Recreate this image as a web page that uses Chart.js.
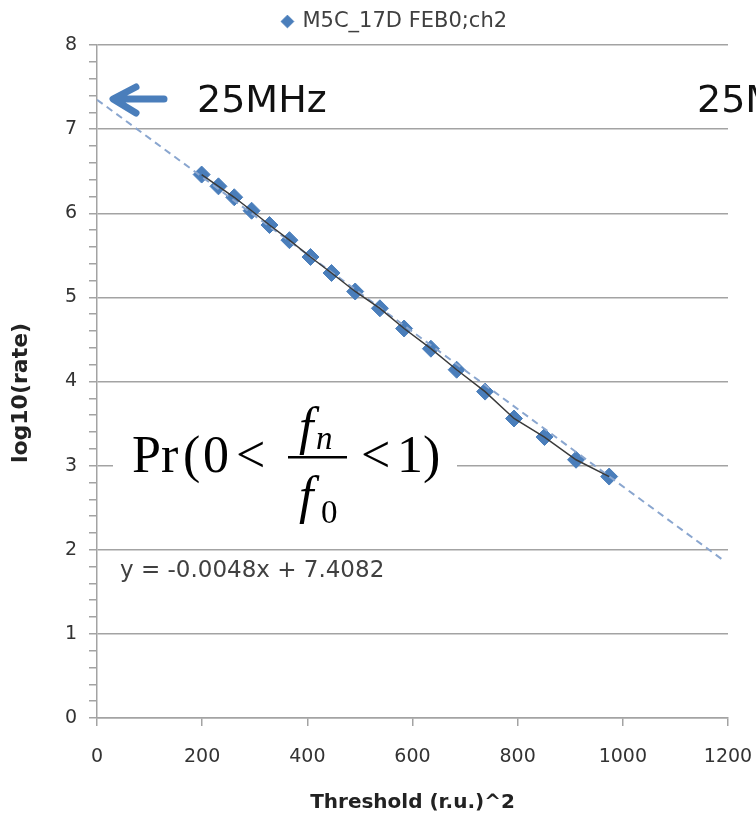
<!DOCTYPE html>
<html><head><meta charset="utf-8">
<script src="https://cdn.jsdelivr.net/npm/chart.js@4"></script>
<style>html,body{margin:0;padding:0;background:#fff;}canvas{display:block;}</style>
</head><body>
<canvas id="c" width="756" height="826"></canvas>
<script>
const seriesName = 'M5C_17D FEB0;ch2';
const thresholdSq = [199,231,261,294,328,366,406,446,491,538,584,635,684,738,793,851,911,974];
const log10Rate = [6.46,6.32,6.19,6.03,5.86,5.68,5.48,5.29,5.07,4.87,4.63,4.39,4.14,3.88,3.56,3.34,3.07,2.87];
const trendX = [0, 1190];
const trendY = [7.35, 1.88];
const xTicks = [0,200,400,600,800,1000,1200];
const yTicks = [0,1,2,3,4,5,6,7,8];
const equationLabel = 'y = -0.0048x + 7.4082';
const freqLabel = '25MHz';

const pts = thresholdSq.map((x,i)=>({x, y: log10Rate[i]}));
const trend = trendX.map((x,i)=>({x, y: trendY[i]}));

const GRID = '#a3a3a3';
const TXT = '#333333';
const BLUE = '#4a7ebb';

const annot = {
  id: 'annot',
  afterLayout(chart) {
    const l = chart.legend;
    if (l) { l.left += 31; l.right += 31; l.top -= 3; l.bottom -= 3; }
  },
  afterDraw(chart) {
    const ctx = chart.ctx;
    ctx.save();
    ctx.fillStyle = '#fff';
    ctx.fillRect(113, 400, 344, 140);
    ctx.fillStyle = '#000';
    ctx.textBaseline = 'alphabetic';
    ctx.font = '52px "Liberation Serif"';
    ctx.fillText('Pr', 132, 472);
    ctx.fillText('(', 183, 472);
    ctx.fillText('0', 203, 472);
    ctx.fillText('<', 236, 472);
    ctx.fillText('<', 361, 472);
    ctx.fillText('1', 397, 472);
    ctx.fillText(')', 423, 472);
    ctx.font = 'italic 52px "Liberation Serif"';
    ctx.fillText('f', 299, 444);
    ctx.fillText('f', 299, 513);
    ctx.font = 'italic 33px "Liberation Serif"';
    ctx.fillText('n', 316, 449);
    ctx.font = '33px "Liberation Serif"';
    ctx.fillText('0', 321, 523);
    ctx.fillRect(288, 456, 59, 2.5);
    ctx.fillStyle = '#404040';
    ctx.font = '23px "DejaVu Sans"';
    ctx.fillText(equationLabel, 120, 577);
    ctx.fillStyle = '#111';
    ctx.font = '38px "DejaVu Sans"';
    ctx.fillText(freqLabel, 197, 112);
    ctx.fillText(freqLabel, 697, 112);
    ctx.strokeStyle = BLUE;
    ctx.lineWidth = 7;
    ctx.lineCap = 'round';
    ctx.lineJoin = 'round';
    ctx.beginPath();
    ctx.moveTo(164, 99); ctx.lineTo(114, 99);
    ctx.moveTo(136, 87); ctx.lineTo(113, 99); ctx.lineTo(136, 113);
    ctx.stroke();
    ctx.restore();
  }
};

const isInt = v => Math.abs(v - Math.round(v)) < 1e-6;

new Chart(document.getElementById('c'), {
  type: 'scatter',
  data: {
    datasets: [
      { label: 'fit', data: pts, showLine: true, pointRadius: 0, borderColor: '#3a3a3a', borderWidth: 1.5, order: 0 },
      { label: 'trend', data: trend, showLine: true, pointRadius: 0, borderColor: '#8aa6cf', borderWidth: 2, borderDash: [7,5], order: 1 },
      { label: seriesName, data: pts, showLine: false, pointStyle: 'rectRot', pointRadius: 8.5, pointHoverRadius: 8.5,
        backgroundColor: BLUE, borderColor: BLUE, borderWidth: 1, order: 2 }
    ]
  },
  options: {
    responsive: false,
    animation: false,
    devicePixelRatio: 1,
    layout: { padding: { top: 4, right: 28, bottom: 0, left: 0 } },
    plugins: {
      tooltip: { enabled: false },
      legend: {
        display: true, position: 'top',
        labels: {
          filter: item => item.text === seriesName,
          usePointStyle: true, boxWidth: 9, boxHeight: 9, padding: 10,
          color: '#404040', font: { family: 'DejaVu Sans', size: 21 }
        }
      }
    },
    scales: {
      x: {
        type: 'linear', min: 0, max: 1200,
        afterBuildTicks: s => { s.ticks = xTicks.map(v => ({ value: v })); },
        afterFit: s => { s.height = 108; s.paddingLeft = 0; s.paddingRight = 20; },
        ticks: { color: TXT, padding: 20, font: { family: 'DejaVu Sans', size: 19 }, callback: v => String(v) },
        grid: { drawOnChartArea: false, drawTicks: true, tickLength: 8, tickColor: GRID, color: GRID, lineWidth: 1.5 },
        border: { color: GRID, width: 1.5 },
        title: { display: true, text: 'Threshold (r.u.)^2', color: '#222', padding: { top: 0, bottom: 11 },
                 font: { family: 'DejaVu Sans', size: 20, weight: 'bold' } }
      },
      y: {
        type: 'linear', min: 0, max: 8,
        afterFit: s => { s.width = 97; },
        ticks: { stepSize: 0.2, autoSkip: false, color: TXT, padding: 12,
                 font: { family: 'DejaVu Sans', size: 19 },
                 callback: v => (isInt(v) && yTicks.includes(Math.round(v))) ? String(Math.round(v)) : '' },
        grid: { color: c => (c.tick && isInt(c.tick.value)) ? GRID : 'rgba(0,0,0,0)', tickColor: GRID,
                tickLength: 8, lineWidth: 1.5 },
        border: { color: GRID, width: 1.5 },
        title: { display: true, text: 'log10(rate)   ', color: '#222', padding: { top: 8, bottom: 0 },
                 font: { family: 'DejaVu Sans', size: 22, weight: 'bold' } }
      }
    }
  },
  plugins: [annot]
});
</script>
</body></html>
